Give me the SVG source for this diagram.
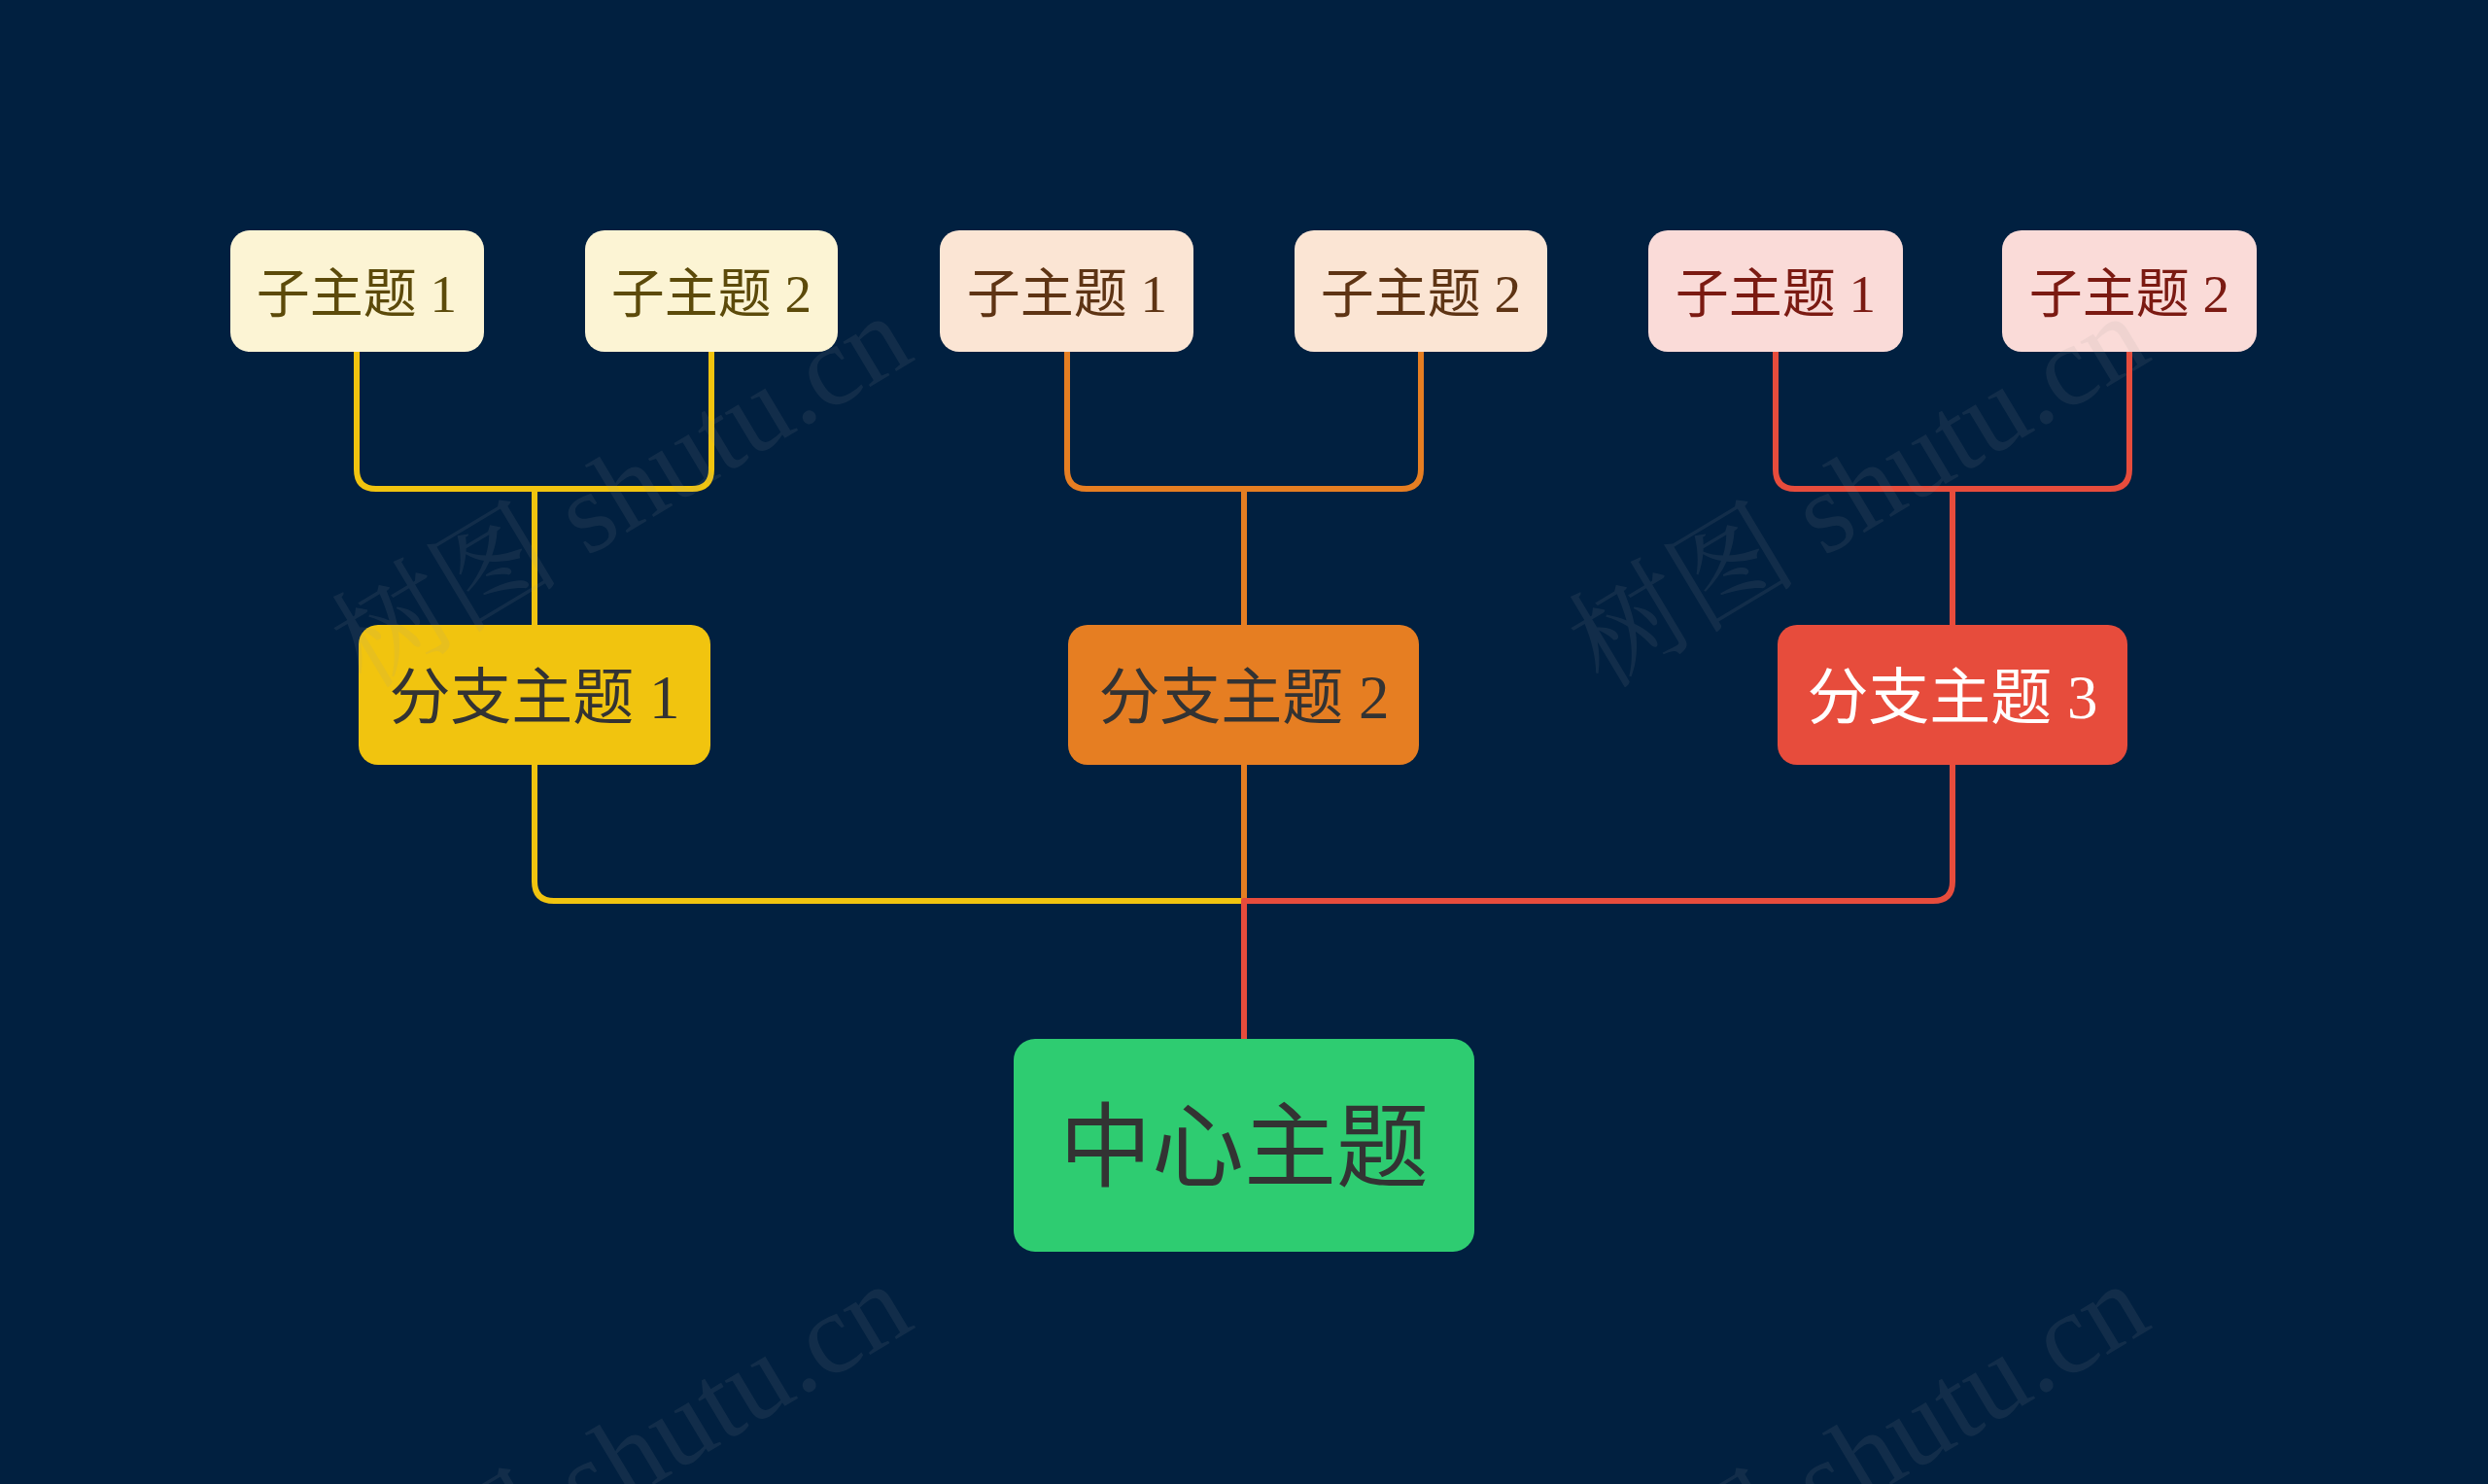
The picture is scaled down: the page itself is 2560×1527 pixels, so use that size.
<svg xmlns="http://www.w3.org/2000/svg" width="2560" height="1527" viewBox="0 0 2560 1527">
<style>
.bg{fill:#012040}
.box{stroke:none}
.sub{font-family:"Liberation Serif","Noto Sans CJK SC",serif;font-size:55px;text-anchor:middle}
.br{font-family:"Liberation Serif","Noto Sans CJK SC",serif;font-size:63px;text-anchor:middle}
.ctr{font-family:"Noto Sans CJK SC",sans-serif;font-size:95px;text-anchor:middle;fill:#333333}
.ln{fill:none;stroke-width:6;stroke-linejoin:round}
.wm{font-family:"Liberation Serif","Noto Serif CJK SC","Noto Sans CJK SC",serif;font-size:118px;fill:#9a9a9a;opacity:0.11}
</style>
<rect class="bg" x="0" y="0" width="2560" height="1527"/>
<g id="connectors">
<path class="ln" stroke="#F1C40F" d="M367,362 V483 Q367,503 387,503 H550 V643"/>
<path class="ln" stroke="#F1C40F" d="M732,362 V483 Q732,503 712,503 H550"/>
<path class="ln" stroke="#E67E22" d="M1098,362 V483 Q1098,503 1118,503 H1280 V643"/>
<path class="ln" stroke="#E67E22" d="M1462,362 V483 Q1462,503 1442,503 H1280"/>
<path class="ln" stroke="#E74C3C" d="M1827,362 V483 Q1827,503 1847,503 H2009 V643"/>
<path class="ln" stroke="#E74C3C" d="M2191,362 V483 Q2191,503 2171,503 H2009"/>
<path class="ln" stroke="#F1C40F" d="M550,787 V907 Q550,927 570,927 H1280"/>
<path class="ln" stroke="#E67E22" d="M1280,787 V927"/>
<path class="ln" stroke="#E74C3C" d="M2009,787 V907 Q2009,927 1989,927 H1280 V1069"/>
</g>
<g id="sub1"><rect class="box" x="237" y="237" width="261" height="125" rx="20" fill="#FCF4D4"/><text class="sub" x="367" y="321" fill="#5C4A0A">子主题 1</text></g>
<g id="sub2"><rect class="box" x="602" y="237" width="260" height="125" rx="20" fill="#FCF4D4"/><text class="sub" x="732" y="321" fill="#5C4A0A">子主题 2</text></g>
<g id="sub3"><rect class="box" x="967" y="237" width="261" height="125" rx="20" fill="#FBE5D4"/><text class="sub" x="1098" y="321" fill="#5E3414">子主题 1</text></g>
<g id="sub4"><rect class="box" x="1332" y="237" width="260" height="125" rx="20" fill="#FBE5D4"/><text class="sub" x="1462" y="321" fill="#5E3414">子主题 2</text></g>
<g id="sub5"><rect class="box" x="1696" y="237" width="262" height="125" rx="20" fill="#FADBD8"/><text class="sub" x="1827" y="321" fill="#7B1A12">子主题 1</text></g>
<g id="sub6"><rect class="box" x="2060" y="237" width="262" height="125" rx="20" fill="#FADBD8"/><text class="sub" x="2191" y="321" fill="#7B1A12">子主题 2</text></g>
<g id="branch1"><rect class="box" x="369" y="643" width="362" height="144" rx="20" fill="#F1C40F"/><text class="br" x="550" y="739" fill="#333333">分支主题 1</text></g>
<g id="branch2"><rect class="box" x="1099" y="643" width="361" height="144" rx="20" fill="#E67E22"/><text class="br" x="1280" y="739" fill="#333333">分支主题 2</text></g>
<g id="branch3"><rect class="box" x="1829" y="643" width="360" height="144" rx="20" fill="#E74C3C"/><text class="br" x="2009" y="739" fill="#FFFFFF">分支主题 3</text></g>
<g id="center"><rect class="box" x="1043" y="1069" width="474" height="219" rx="22" fill="#2ECC71"/><text class="ctr" x="1280" y="1214">中心主题</text></g>
<g id="watermarks">
<text class="wm" transform="translate(376,710) rotate(-31)">树图 shutu.cn</text>
<text class="wm" transform="translate(1649,710) rotate(-31)">树图 shutu.cn</text>
<text class="wm" transform="translate(376,1706) rotate(-31)">树图 shutu.cn</text>
<text class="wm" transform="translate(1649,1706) rotate(-31)">树图 shutu.cn</text>
</g>
</svg>
